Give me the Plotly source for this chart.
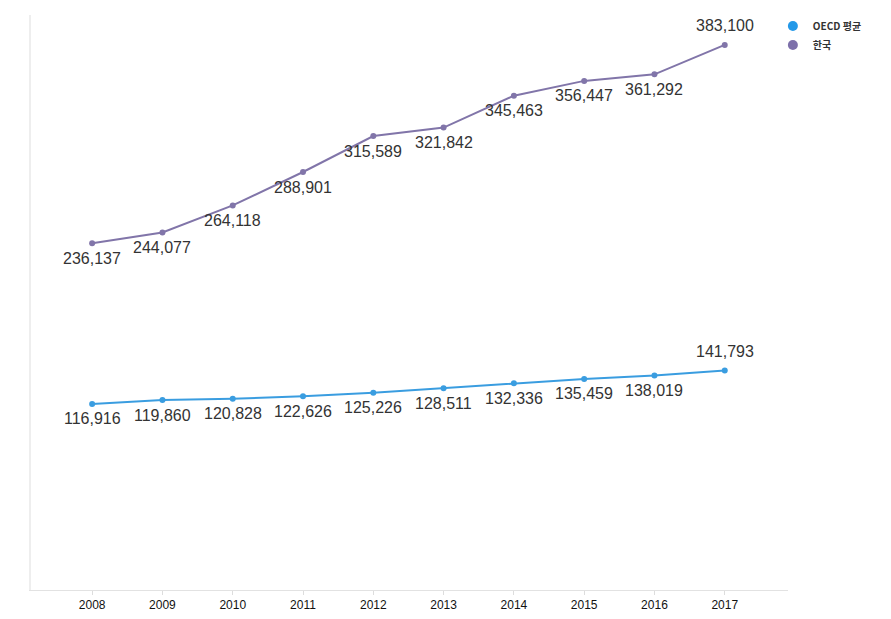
import plotly.graph_objects as go

years = ["2008", "2009", "2010", "2011", "2012", "2013", "2014", "2015", "2016", "2017"]
oecd = [116916, 119860, 120828, 122626, 125226, 128511, 132336, 135459, 138019, 141793]
korea = [236137, 244077, 264118, 288901, 315589, 321842, 345463, 356447, 361292, 383100]

OECD_COLOR = "#3a9de0"
KOREA_COLOR = "#8175a9"
LABEL_FONT = dict(family="Liberation Sans, Arial, sans-serif", size=16, color="#333333")

fig = go.Figure()
for name, vals, color, dot in [("OECD 평균", oecd, OECD_COLOR, "#2499e8"),
                               ("한국", korea, KOREA_COLOR, "#7d70aa")]:
    fig.add_trace(go.Scatter(
        x=years,
        y=vals,
        mode="lines+markers",
        name=name,
        line=dict(color=color, width=2),
        marker=dict(color=color, size=6),
        showlegend=False,
    ))
    # legend-only entry, just a dot
    fig.add_trace(go.Scatter(
        x=[None], y=[None],
        mode="markers",
        name=name,
        marker=dict(color=dot, size=10),
    ))
    # value labels under each point, last one above
    # (x given as category index, a "2008" string would be read as a number)
    for i, v in enumerate(vals):
        last = i == len(vals) - 1
        fig.add_annotation(
            x=i, y=v,
            text=f"{v:,}",
            showarrow=False,
            font=LABEL_FONT,
            yshift=19 if last else -15,
        )

fig.update_layout(
    width=883,
    height=611,
    plot_bgcolor="white",
    paper_bgcolor="white",
    margin=dict(l=23, r=103, t=7, b=29, autoexpand=False),
    xaxis=dict(
        type="category",
        range=[-0.87, 9.9],
        showgrid=False,
        showline=True,
        linecolor="#e2e2e2",
        linewidth=1,
        ticks="outside",
        ticklen=4,
        tickcolor="#dddddd",
        tickfont=dict(family="Liberation Sans, Arial, sans-serif", size=12, color="#111111"),
        zeroline=False,
    ),
    yaxis=dict(
        range=[-21000, 405300],
        showgrid=False,
        showline=True,
        linecolor="#eeeeee",
        linewidth=2,
        showticklabels=False,
        ticks="",
        zeroline=False,
    ),
    legend=dict(
        x=0.98,
        y=1.006,
        xanchor="left",
        yanchor="top",
        font=dict(family="Noto Sans CJK KR, sans-serif", size=10, color="#333333", weight="bold"),
        bgcolor="rgba(0,0,0,0)",
        tracegroupgap=0,
    ),
    showlegend=True,
)

fig.write_html("out.html")
